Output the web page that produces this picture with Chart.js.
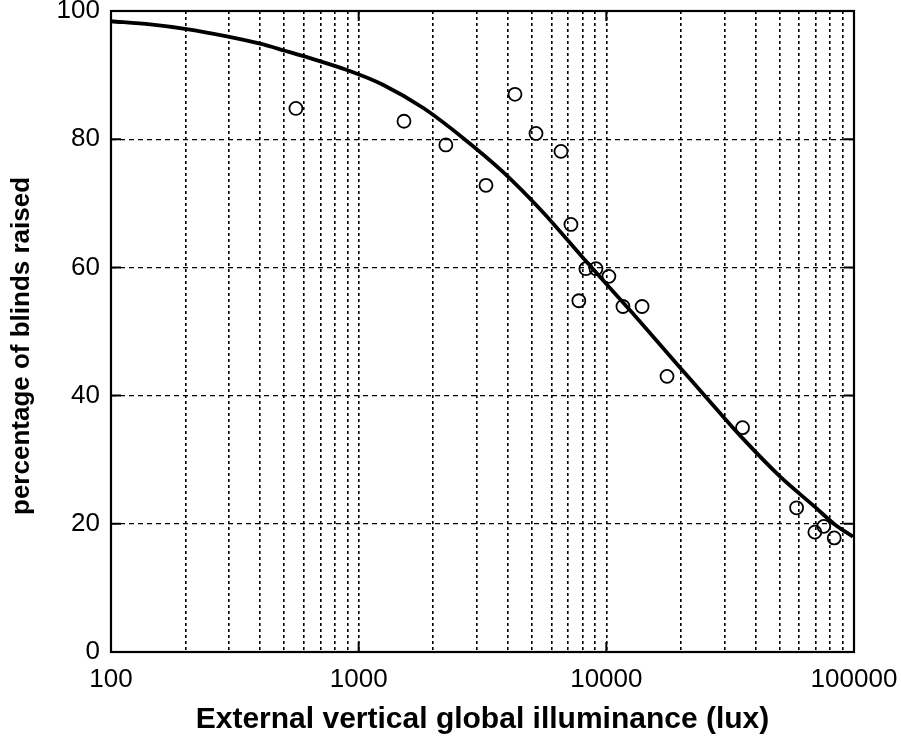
<!DOCTYPE html>
<html>
<head>
<meta charset="utf-8">
<script src="https://cdn.jsdelivr.net/npm/chart.js@4/dist/chart.umd.min.js"></script>
<style>
  html, body { margin: 0; padding: 0; background: #fff; }
  #wrap { width: 901px; height: 736px; position: relative; }
</style>
</head>
<body>
<div id="wrap"><canvas id="c" width="901" height="736"></canvas></div>
<script>
// Observed data (external vertical illuminance in lux, % blinds raised)
const obsLux = [558, 1524, 2249, 3266, 4277, 5200, 6560, 7195, 7745, 8270, 9080, 10240, 11670, 13940, 17580, 35480, 58640, 69500, 75500, 83200];
const obsPct = [84.8, 82.8, 79.1, 72.8, 87.0, 80.9, 78.1, 66.7, 54.8, 59.8, 59.8, 58.6, 53.9, 53.9, 43.0, 35.0, 22.5, 18.7, 19.6, 17.8];

// Fitted curve
const fitLux = [100, 144, 199, 297, 400, 504, 618, 897, 1253, 1818, 2637, 3824, 5548, 8044, 12805, 19822, 25480, 34620, 50220, 68760, 83600, 99000];
const fitPct = [98.4, 97.9, 97.2, 96.0, 94.9, 93.8, 92.8, 90.8, 88.5, 84.9, 80.2, 74.9, 68.6, 61.5, 52.8, 44.4, 39.6, 33.8, 27.4, 22.8, 19.9, 18.0];

// Axis ticks
const xDecades = [100, 1000, 10000, 100000];
const yTicks = [0, 20, 40, 60, 80, 100];

const FONT = '"Liberation Sans", Arial, Helvetica, sans-serif';

// x grid: every 1..9 multiple within each decade
const xGridValues = [];
for (let d = 0; d < xDecades.length - 1; d++) {
  for (let m = 1; m <= 9; m++) xGridValues.push(xDecades[d] * m);
}
xGridValues.push(xDecades[xDecades.length - 1]);

const framePlugin = {
  id: 'frame',
  afterDraw(chart) {
    const { ctx, chartArea: a, scales } = chart;
    ctx.save();
    ctx.strokeStyle = '#000';
    ctx.setLineDash([]);
    ctx.lineWidth = 2;
    const tl = 10;
    yTicks.forEach(v => {
      const py = scales.y.getPixelForValue(v);
      ctx.beginPath();
      ctx.moveTo(a.left, py); ctx.lineTo(a.left + tl, py);
      ctx.moveTo(a.right, py); ctx.lineTo(a.right - tl, py);
      ctx.stroke();
    });
    xDecades.forEach(v => {
      const px = scales.x.getPixelForValue(v);
      ctx.beginPath();
      ctx.moveTo(px, a.bottom); ctx.lineTo(px, a.bottom - tl);
      ctx.moveTo(px, a.top); ctx.lineTo(px, a.top + tl);
      ctx.stroke();
    });
    ctx.lineWidth = 2.2;
    ctx.strokeRect(a.left, a.top, a.right - a.left, a.bottom - a.top);
    ctx.restore();
  }
};

new Chart(document.getElementById('c'), {
  type: 'scatter',
  data: {
    datasets: [
      {
        label: 'fit',
        data: fitLux.map((x, i) => ({ x, y: fitPct[i] })),
        showLine: true,
        borderColor: '#000',
        borderWidth: 3.8,
        pointRadius: 0,
        tension: 0.3,
        fill: false,
        order: 1
      },
      {
        label: 'observed',
        data: obsLux.map((x, i) => ({ x, y: obsPct[i] })),
        showLine: false,
        pointStyle: 'circle',
        pointRadius: 6.5,
        pointBorderWidth: 1.8,
        pointBorderColor: '#000',
        pointBackgroundColor: 'rgba(255,255,255,0)',
        order: 2
      }
    ]
  },
  options: {
    responsive: false,
    animation: false,
    devicePixelRatio: 1,
    layout: { padding: { top: 11, right: 47, left: 0, bottom: 0 } },
    plugins: { legend: { display: false }, tooltip: { enabled: false } },
    scales: {
      x: {
        type: 'logarithmic',
        min: 100,
        max: 100000,
        afterBuildTicks(scale) {
          scale.ticks = xGridValues.map(v => ({ value: v }));
        },
        afterFit(scale) {
          scale.height = 84;
          scale.paddingLeft = 0;
          scale.paddingRight = 0;
        },
        ticks: {
          autoSkip: false,
          maxRotation: 0,
          minRotation: 0,
          padding: 12,
          color: '#000',
          font: { family: FONT, size: 26 },
          callback(v) { return xDecades.includes(v) ? String(v) : ''; }
        },
        grid: { color: '#000', lineWidth: 1.6, drawTicks: false },
        border: { display: false, dash: [3, 3] },
        title: {
          display: true,
          text: 'External vertical global illuminance (lux)',
          color: '#000',
          font: { family: FONT, size: 30, weight: 'bold', lineHeight: 1.1 },
          padding: { top: 0, bottom: 0 }
        }
      },
      y: {
        type: 'linear',
        min: 0,
        max: 100,
        afterFit(scale) {
          scale.width = 111;
          scale.paddingTop = 0;
          scale.paddingBottom = 0;
        },
        afterBuildTicks(scale) {
          scale.ticks = yTicks.map(v => ({ value: v }));
        },
        ticks: {
          padding: 11,
          color: '#000',
          font: { family: FONT, size: 26 }
        },
        grid: { color: '#000', lineWidth: 1.2, drawTicks: false },
        border: { display: false, dash: [5, 4] },
        title: {
          display: true,
          text: 'percentage of blinds raised    ',
          color: '#000',
          font: { family: FONT, size: 26, weight: 'bold', lineHeight: 1.2 },
          padding: { top: 6, bottom: 0 }
        }
      }
    }
  },
  plugins: [framePlugin]
});
</script>
</body>
</html>
